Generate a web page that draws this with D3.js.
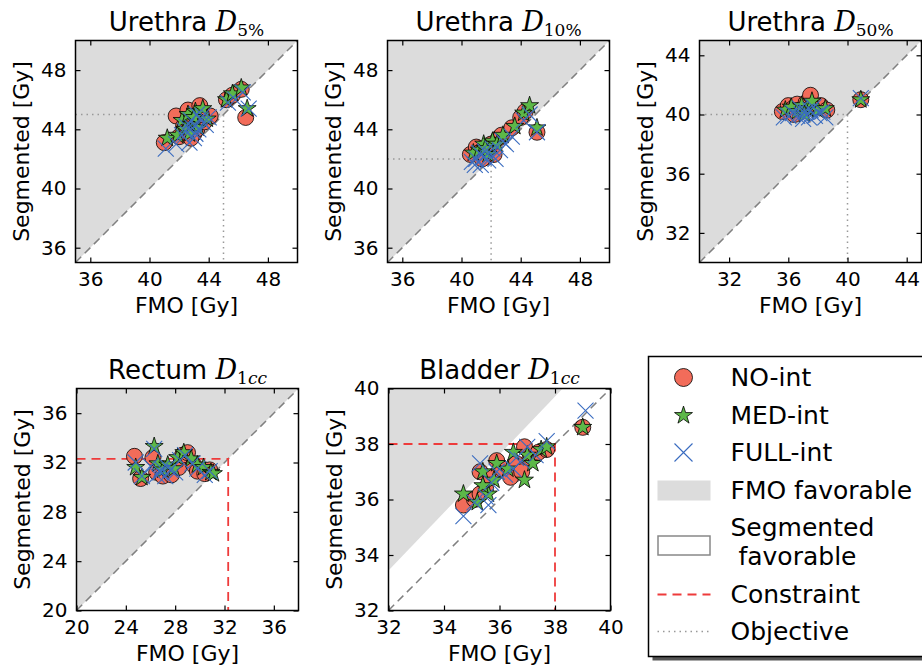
<!DOCTYPE html>
<html>
<head>
<meta charset="utf-8">
<script src="https://cdn.jsdelivr.net/npm/d3@7"></script>
<style>
  body { margin: 0; background: #fff; }
  text { font-family: "DejaVu Sans", sans-serif; fill: #000; }
  .tick line { stroke: #000; stroke-width: 1.2; }
</style>
</head>
<body>
<div id="chart"></div>
<script>
const width = 922, height = 671;

// Urethra D5%
const urethraD5No = [[41.0,43.1],[41.8,44.9],[42.0,43.5],[42.3,44.2],[42.6,45.3],[42.9,44.6],[43.0,43.7],[43.2,44.0],[43.4,45.6],[43.7,44.5],[44.1,44.9],[42.5,43.8],[42.8,43.4],[43.5,45.0],[45.2,46.0],[45.6,46.3],[46.2,46.7],[46.5,44.8]];
const urethraD5Med = [[41.2,43.4],[41.9,43.6],[42.2,44.6],[42.6,45.0],[42.8,44.3],[43.1,45.2],[43.3,44.1],[43.6,45.4],[43.9,44.7],[42.4,44.0],[43.0,44.8],[42.7,43.7],[45.2,46.0],[45.6,46.4],[46.2,46.8],[46.6,45.4]];
const urethraD5Full = [[41.1,42.7],[41.8,43.0],[42.2,43.6],[42.5,44.2],[42.8,44.6],[43.0,43.4],[43.3,44.0],[43.5,44.6],[43.8,44.3],[44.0,44.8],[42.7,43.1],[43.2,45.0],[42.4,43.9],[42.9,44.1],[43.1,43.7],[43.6,44.9],[45.3,45.8],[45.8,46.0],[46.3,46.5],[46.7,45.4]];

// Urethra D10%
const urethraD10No = [[40.6,42.3],[41.0,42.8],[41.3,42.5],[41.6,42.1],[41.9,42.6],[42.2,42.3],[42.5,43.4],[42.7,43.6],[43.4,44.1],[44.0,44.8],[44.3,45.2],[45.1,43.8],[41.4,42.0],[42.0,43.0]];
const urethraD10Med = [[40.8,42.4],[41.2,42.6],[41.5,43.0],[41.8,42.3],[42.1,43.2],[42.4,43.0],[42.8,43.6],[43.6,44.2],[44.2,45.1],[44.6,45.6],[45.1,44.1],[41.6,42.7]];
const urethraD10Full = [[40.7,41.8],[41.0,42.0],[41.3,41.6],[41.5,42.1],[41.8,41.9],[42.0,42.3],[42.3,42.0],[42.6,42.6],[43.0,43.0],[43.4,43.5],[44.2,44.6],[44.6,45.0],[45.1,43.8],[41.2,42.4],[41.6,42.5],[42.1,42.7],[42.8,43.2],[40.9,41.6]];

// Urethra D50%
const urethraD50No = [[35.6,40.2],[36.0,40.6],[36.3,40.4],[36.6,40.7],[36.9,40.3],[37.2,40.8],[37.5,41.3],[37.8,40.5],[38.2,40.6],[38.6,40.3],[40.9,41.0],[36.4,40.0]];
const urethraD50Med = [[35.8,40.3],[36.2,40.5],[36.6,40.2],[36.9,40.6],[37.3,40.4],[37.6,40.9],[38.0,40.3],[38.5,40.4],[40.9,41.0],[37.1,40.0]];
const urethraD50Full = [[35.7,39.8],[36.0,39.9],[36.3,40.1],[36.6,39.9],[36.9,40.0],[37.2,40.2],[37.5,40.3],[37.8,39.9],[38.1,40.1],[38.5,39.8],[40.9,41.1],[36.8,40.4],[37.4,39.8],[37.0,39.7],[37.7,40.5],[38.3,40.2]];

// Rectum D1cc
const rectumNo = [[24.7,32.5],[25.2,30.7],[26.2,32.4],[26.5,31.2],[27.0,30.9],[27.5,31.3],[27.7,31.0],[28.3,31.6],[28.6,32.6],[29.0,32.8],[29.5,31.8],[29.8,31.3],[30.4,31.1],[30.8,31.4]];
const rectumMed = [[24.8,31.6],[25.3,30.8],[26.3,33.3],[26.6,31.9],[27.0,31.4],[27.4,31.8],[27.9,31.5],[28.2,32.4],[28.7,32.8],[29.3,32.3],[29.8,31.8],[30.3,31.6],[30.9,31.2],[31.1,31.1]];
const rectumFull = [[24.8,32.0],[25.3,30.9],[26.3,33.1],[26.5,31.0],[26.9,31.5],[27.2,30.9],[27.6,31.4],[28.0,31.2],[28.4,32.2],[28.8,32.6],[29.4,31.9],[29.8,31.5],[30.4,31.0],[30.8,31.3],[26.0,31.7],[26.8,31.2],[27.4,31.6]];

// Bladder D1cc
const bladderNo = [[34.7,35.8],[35.1,36.0],[35.3,37.0],[35.5,36.4],[35.7,36.8],[35.9,37.4],[36.1,37.1],[36.4,36.8],[36.6,37.3],[36.9,37.9],[37.1,37.5],[37.4,37.7],[37.7,37.8],[39.0,38.6],[35.3,36.2],[36.8,37.0]];
const bladderMed = [[34.7,36.2],[35.2,35.9],[35.4,37.0],[35.6,36.2],[35.8,36.7],[35.9,37.3],[36.3,37.1],[36.5,37.7],[36.9,36.7],[37.0,37.6],[37.2,37.3],[37.5,37.8],[37.7,37.9],[39.0,38.6],[35.4,36.5]];
const bladderFull = [[34.7,35.4],[35.1,35.9],[35.3,37.3],[35.5,36.1],[35.7,36.6],[35.9,37.0],[36.2,36.9],[36.5,37.1],[36.8,37.4],[37.0,37.9],[37.3,37.6],[37.7,38.1],[39.1,39.2],[35.6,35.8],[36.6,37.5]];

// axis ranges, ticks and dose limits
const domUrethra = [35, 50], ticksUrethra = [36, 40, 44, 48];
const domUrethraD50 = [30, 45], ticksUrethraD50 = [32, 36, 40, 44];
const domRectum = [20, 38], ticksRectum = [20, 24, 28, 32, 36];
const domBladder = [32, 40], ticksBladder = [32, 34, 36, 38, 40];
const objectives = [45, 42, 40];
const constraints = [32.3, 38];
const bladderFavRatio = 1.045;

const seriesNames = ["NO-int", "MED-int", "FULL-int"];
const extraLegend = ["FMO favorable", "Segmented", " favorable", "Constraint", "Objective"];

const panels = [
  { title: "Urethra ", sub: [["5%", false]], dom: domUrethra, ticks: ticksUrethra,
    series: [urethraD5No, urethraD5Med, urethraD5Full], obj: objectives[0], fav: 1, left: 75.5, top: 40.5 },
  { title: "Urethra ", sub: [["10%", false]], dom: domUrethra, ticks: ticksUrethra,
    series: [urethraD10No, urethraD10Med, urethraD10Full], obj: objectives[1], fav: 1, left: 387.5, top: 40.5 },
  { title: "Urethra ", sub: [["50%", false]], dom: domUrethraD50, ticks: ticksUrethraD50,
    series: [urethraD50No, urethraD50Med, urethraD50Full], obj: objectives[2], fav: 1, left: 699.5, top: 40.5 },
  { title: "Rectum ", sub: [["1", false], ["cc", true]], dom: domRectum, ticks: ticksRectum,
    series: [rectumNo, rectumMed, rectumFull], con: constraints[0], fav: 1, left: 76.5, top: 388.5 },
  { title: "Bladder ", sub: [["1", false], ["cc", true]], dom: domBladder, ticks: ticksBladder,
    series: [bladderNo, bladderMed, bladderFull], con: constraints[1], fav: bladderFavRatio, left: 388.5, top: 388.5 }
];

const size = 222;
const colNo = "#f26c5a", colMed = "#5cb848", colFull = "#3a6cc0";
const starPath = d3.symbol().type(d3.symbolStar).size(100)();
const xPath = r => `M${-r},${-r}L${r},${r}M${-r},${r}L${r},${-r}`;

const svg = d3.select("#chart").append("svg")
  .attr("width", width).attr("height", height);

panels.forEach(p => {
  const g = svg.append("g").attr("transform", `translate(${p.left},${p.top})`);
  const x = d3.scaleLinear().domain(p.dom).range([0, size]);
  const y = d3.scaleLinear().domain(p.dom).range([size, 0]);
  const [d0, d1] = p.dom;

  // FMO favorable region: above y = fav * x
  const poly = [[d0, p.fav * d0], [d1 / p.fav, d1], [d0, d1]];
  g.append("path")
    .attr("d", "M" + poly.map(d => [x(d[0]), y(d[1])].join(",")).join("L") + "Z")
    .attr("fill", "#dcdcdc");

  g.append("line")
    .attr("x1", x(d0)).attr("y1", y(d0)).attr("x2", x(d1)).attr("y2", y(d1))
    .attr("stroke", "#808080").attr("stroke-width", 1.5).attr("stroke-dasharray", "8,5");

  if (p.obj != null) {
    g.append("path")
      .attr("d", `M${x(d0)},${y(p.obj)}L${x(p.obj)},${y(p.obj)}L${x(p.obj)},${y(d0)}`)
      .attr("fill", "none").attr("stroke", "#999").attr("stroke-width", 1.5)
      .attr("stroke-dasharray", "1.5,4");
  }
  if (p.con != null) {
    g.append("path")
      .attr("d", `M${x(d0)},${y(p.con)}L${x(p.con)},${y(p.con)}L${x(p.con)},${y(d0)}`)
      .attr("fill", "none").attr("stroke", "#ee3b3b").attr("stroke-width", 1.8)
      .attr("stroke-dasharray", "9,6");
  }

  // markers
  g.append("g").selectAll("circle").data(p.series[0]).join("circle")
    .attr("cx", d => x(d[0])).attr("cy", d => y(d[1])).attr("r", 8)
    .attr("fill", colNo).attr("stroke", "#000").attr("stroke-width", 0.8);
  g.append("g").selectAll("path").data(p.series[1]).join("path")
    .attr("transform", d => `translate(${x(d[0])},${y(d[1])})`)
    .attr("d", starPath).attr("fill", colMed).attr("stroke", "#000").attr("stroke-width", 0.8);
  g.append("g").selectAll("path").data(p.series[2]).join("path")
    .attr("transform", d => `translate(${x(d[0])},${y(d[1])})`)
    .attr("d", xPath(8)).attr("fill", "none").attr("stroke", colFull).attr("stroke-width", 1.1);

  // axes, ticks pointing inwards on all four sides
  const ax = [
    [d3.axisBottom(x), `translate(0,${size})`, true],
    [d3.axisLeft(y), "", true],
    [d3.axisTop(x), "", false],
    [d3.axisRight(y), `translate(${size},0)`, false]
  ];
  ax.forEach(([a, tr, lab]) => {
    a.tickValues(p.ticks).tickSizeInner(-5).tickSizeOuter(0).tickPadding(9);
    if (!lab) a.tickFormat("");
    const ag = g.append("g").attr("transform", tr).call(a);
    ag.select(".domain").remove();
    ag.selectAll("text").style("font-size", "20px").style("font-family", "DejaVu Sans");
  });

  g.append("rect").attr("width", size).attr("height", size)
    .attr("fill", "none").attr("stroke", "#000").attr("stroke-width", 1.5);

  // labels
  g.append("text").attr("x", size / 2).attr("y", size + 50)
    .attr("text-anchor", "middle").style("font-size", "22px").text("FMO [Gy]");
  g.append("text").attr("transform", `translate(-47,${size / 2}) rotate(-90)`)
    .attr("text-anchor", "middle").style("font-size", "22px").text("Segmented [Gy]");

  const t = g.append("text").attr("x", size / 2).attr("y", -10)
    .attr("text-anchor", "middle").style("font-size", "26px");
  t.append("tspan").text(p.title);
  t.append("tspan").text("D").style("font-family", "'DejaVu Serif', serif")
    .style("font-style", "italic").style("font-size", "27px");
  p.sub.forEach((s, i) => {
    const ts = t.append("tspan").text(s[0]).style("font-family", "'DejaVu Serif', serif")
      .style("font-size", "17px");
    if (s[1]) ts.style("font-style", "italic");
    if (i === 0) ts.attr("dy", 5);
  });
});

// legend
const lg = svg.append("g").attr("transform", "translate(648.5,356.5)");
lg.append("rect").attr("x", 4).attr("y", 4).attr("width", 300).attr("height", 300).attr("fill", "#555");
lg.append("rect").attr("width", 300).attr("height", 300)
  .attr("fill", "#fff").attr("stroke", "#000").attr("stroke-width", 1.5);

const mx = 35, tx = 82;
const rowY = [21, 59, 96, 134, 171, 238, 275];
lg.append("circle").attr("cx", mx).attr("cy", rowY[0]).attr("r", 9)
  .attr("fill", colNo).attr("stroke", "#000").attr("stroke-width", 0.8);
lg.append("path").attr("transform", `translate(${mx},${rowY[1]})`).attr("d", starPath)
  .attr("fill", colMed).attr("stroke", "#000").attr("stroke-width", 0.8);
lg.append("path").attr("transform", `translate(${mx},${rowY[2]})`).attr("d", xPath(9))
  .attr("fill", "none").attr("stroke", colFull).attr("stroke-width", 1.1);
lg.append("rect").attr("x", 9).attr("y", rowY[3] - 10).attr("width", 53).attr("height", 20).attr("fill", "#dcdcdc");
lg.append("rect").attr("x", 9.5).attr("y", 179.5).attr("width", 52).attr("height", 19)
  .attr("fill", "#fff").attr("stroke", "#888").attr("stroke-width", 1.5);
lg.append("line").attr("x1", 9).attr("x2", 62).attr("y1", rowY[5]).attr("y2", rowY[5])
  .attr("stroke", "#ee3b3b").attr("stroke-width", 1.8).attr("stroke-dasharray", "9,6");
lg.append("line").attr("x1", 9).attr("x2", 62).attr("y1", rowY[6]).attr("y2", rowY[6])
  .attr("stroke", "#999").attr("stroke-width", 1.5).attr("stroke-dasharray", "1.5,4");

const labels = seriesNames.concat(extraLegend);
const labelY = [21, 59, 96, 134, 171, 200, 238, 275];
lg.selectAll("text.lab").data(labels).join("text").attr("class", "lab")
  .attr("x", tx).attr("y", (d, i) => labelY[i]).attr("dy", "0.35em")
  .style("font-size", "25px").style("white-space", "pre").text(d => d);
</script>
</body>
</html>
